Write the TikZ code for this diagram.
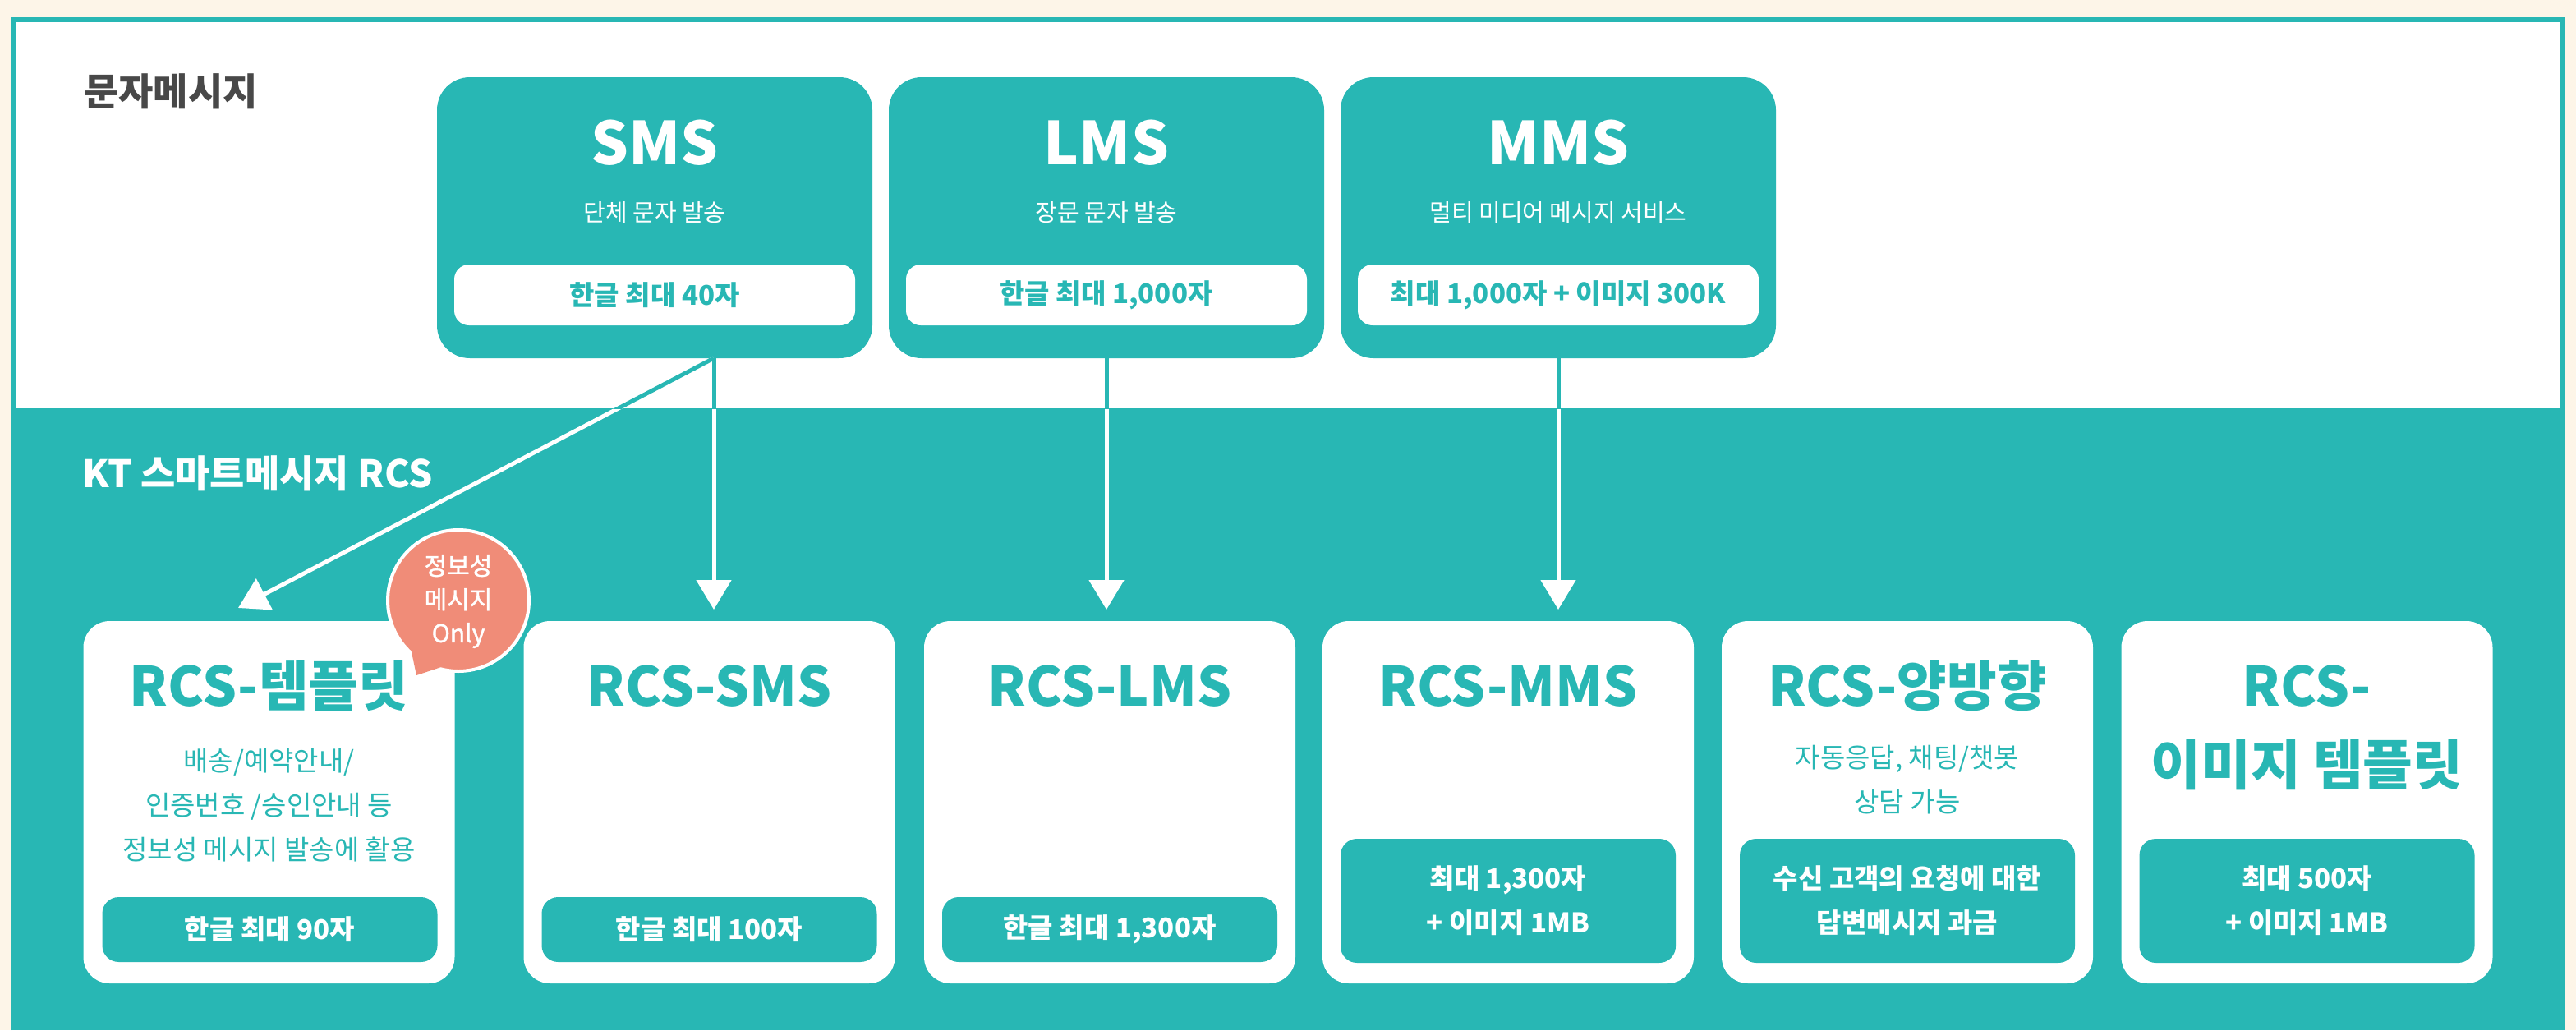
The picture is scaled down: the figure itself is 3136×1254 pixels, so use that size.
\documentclass[tikz,border=0pt]{standalone}
\usepackage{fontspec}
\setmainfont{Noto Sans CJK KR}
\newfontfamily\krmed[FakeBold=1.2]{Noto Sans CJK KR}
\usetikzlibrary{arrows.meta}
\definecolor{kteal}{HTML}{28B7B4}
\definecolor{ksalmon}{HTML}{F08C78}
\definecolor{kbeige}{HTML}{FDF5E8}
\definecolor{kdark}{HTML}{484848}
\newcommand{\kfs}[2]{\fontsize{#1}{#2}\selectfont}
\tikzset{
  topbox/.style={fill=kteal, rounded corners=40pt, minimum width=530pt, minimum height=342pt, inner sep=0pt},
  toppill/.style={fill=white, rounded corners=18pt, minimum width=488pt, minimum height=74pt, inner sep=0pt, text=kteal, font=\bfseries\kfs{33}{40}},
  toptitle/.style={anchor=base, text=white, font=\bfseries\kfs{72}{80}, inner sep=0pt},
  topsub/.style={anchor=base, text=white, font=\kfs{29}{35}, inner sep=0pt},
  botbox/.style={fill=white, rounded corners=32pt, minimum width=452pt, minimum height=441pt, inner sep=0pt},
  bottitle/.style={anchor=base, text=kteal, font=\bfseries\kfs{66}{90}, inner sep=0pt},
  botdesc/.style={text=kteal, font=\kfs{33}{54}, align=center, inner sep=0pt},
  pillone/.style={fill=kteal, rounded corners=20pt, minimum width=408pt, minimum height=79pt, inner sep=0pt, text=white, font=\bfseries\kfs{33}{54}, align=center},
  pilltwo/.style={pillone, minimum height=151pt},
  flow/.style={draw=white, line width=5pt, -{Triangle[width=42pt,length=36pt]}},
  flowtop/.style={draw=kteal, line width=5pt},
  sectionlabel/.style={anchor=base west, inner sep=0pt, font=\bfseries\kfs{46}{50}}
}
\begin{document}
\begin{tikzpicture}[x=1pt,y=-1pt]
% background and frame
\fill[kbeige] (0,0) rectangle (3136,1254);
\useasboundingbox (0,0) rectangle (3136,1254);
\fill[white] (17,24) rectangle (3120,497);
\fill[kteal] (14,497) rectangle (3123,1254);
\draw[kteal, line width=6.5pt] (17,1254) -- (17,24) -- (3120,24) -- (3120,1254);

% section labels
\node[sectionlabel, text=kdark] (lab1) at (102,128) {문자메시지};
\node[sectionlabel, text=white] (lab2) at (100,593) {KT 스마트메시지 RCS};

% top boxes
\node[topbox] (sms) at (797,265) {};
\node[topbox] (lms) at (1347,265) {};
\node[topbox] (mms) at (1897,265) {};

\node[toptitle] (smst) at (797,200) {SMS};
\node[toptitle] (lmst) at (1347,200) {LMS};
\node[toptitle] (mmst) at (1897,200) {MMS};

\node[topsub] (smss) at (797,269) {단체 문자 발송};
\node[topsub] (lmss) at (1347,269) {장문 문자 발송};
\node[topsub] (mmss) at (1897,269) {멀티 미디어 메시지 서비스};

\node[toppill] (smsp) at (797,359) {한글 최대 40자};
\node[toppill] (lmsp) at (1347,359) {한글 최대 1,000자};
\node[toppill] (mmsp) at (1897,359) {최대 1,000자 + 이미지 300K};

% connectors
\coordinate (smsout) at (869,436);
\coordinate (tipA) at (290,740);
\coordinate (tipB) at (869,742);
\coordinate (tipC) at (1347,742);
\coordinate (tipD) at (1897,742);
\draw[flow] (smsout) -- (tipA);
\draw[flow] (smsout) -- (tipB);
\draw[flow] (lms.south) -- (tipC);
\draw[flow] (mms.south) -- (tipD);
\begin{scope}
\clip (0,0) rectangle (3136,497);
\draw[flowtop] (smsout) -- (tipA);
\draw[flowtop] (smsout) -- (tipB);
\draw[flowtop] (lms.south) -- (tipC);
\draw[flowtop] (mms.south) -- (tipD);
\end{scope}

% bottom boxes
\node[botbox] (b1) at (327.5,976.5) {};
\node[botbox] (b2) at (863.5,976.5) {};
\node[botbox] (b3) at (1351,976.5) {};
\node[botbox] (b4) at (1836,976.5) {};
\node[botbox] (b5) at (2322,976.5) {};
\node[botbox] (b6) at (2808.5,976.5) {};

\node[bottitle] (b1t) at (327.5,859) {RCS-템플릿};
\node[bottitle] (b2t) at (863.5,859) {RCS-SMS};
\node[bottitle] (b3t) at (1351,859) {RCS-LMS};
\node[bottitle] (b4t) at (1836,859) {RCS-MMS};
\node[bottitle] (b5t) at (2322,859) {RCS-양방향};
\node[bottitle] (b6t) at (2808.5,859) {RCS-};
\node[bottitle] (b6u) at (2808.5,955) {이미지 템플릿};

\node[botdesc] (b1d) at (327.5,980) {배송/예약안내/\\인증번호 /승인안내 등\\정보성 메시지 발송에 활용};
\node[botdesc] (b5d) at (2322,949) {자동응답, 채팅/챗봇\\상담 가능};

\node[pillone] (b1p) at (328.5,1131.5) {한글 최대 90자};
\node[pillone] (b2p) at (863.5,1131.5) {한글 최대 100자};
\node[pillone] (b3p) at (1351,1131.5) {한글 최대 1,300자};
\node[pilltwo] (b4p) at (1836,1096.5) {최대 1,300자\\+ 이미지 1MB};
\node[pilltwo] (b5p) at (2322,1096.5) {수신 고객의 요청에 대한\\답변메시지 과금};
\node[pilltwo] (b6p) at (2808.5,1096.5) {최대 500자\\+ 이미지 1MB};

% badge
\node[circle, fill=ksalmon, draw=white, line width=4pt, minimum size=172pt, inner sep=0pt] (badge) at (558,731) {};
\fill[ksalmon] (496,770) -- (507,822) -- (567,802) -- cycle;
\node[text=white, font=\krmed\kfs{30}{41}, align=center, inner sep=0pt] (badget) at (558,732) {정보성\\메시지\\Only};
\end{tikzpicture}
\end{document}
